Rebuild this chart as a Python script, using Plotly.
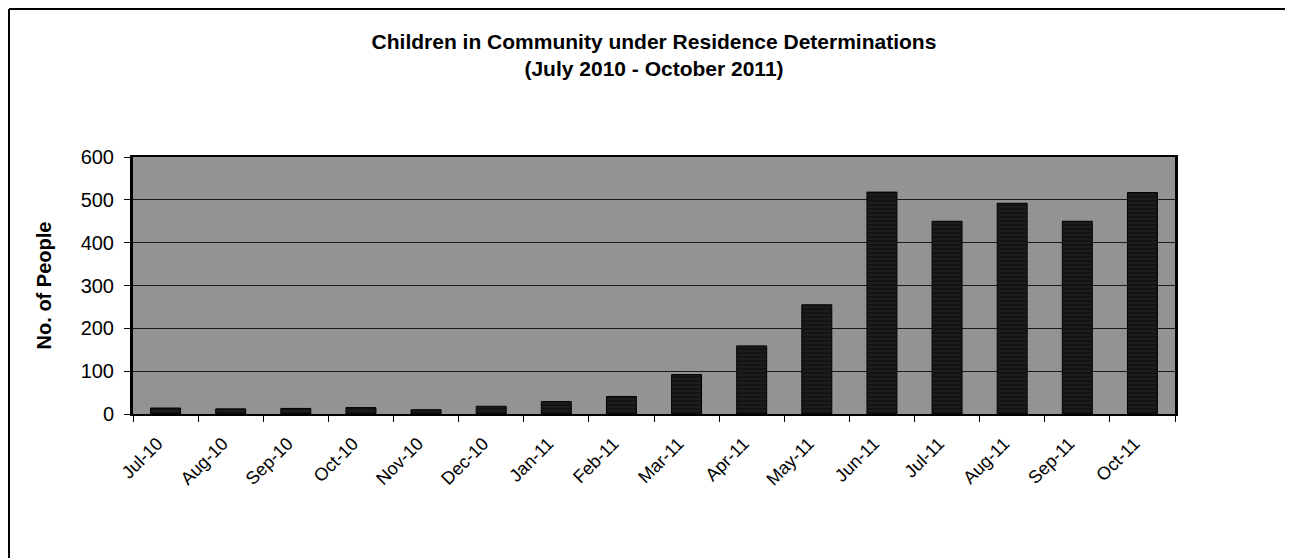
import plotly.graph_objects as go

months = ["Jul-10", "Aug-10", "Sep-10", "Oct-10", "Nov-10", "Dec-10", "Jan-11", "Feb-11",
          "Mar-11", "Apr-11", "May-11", "Jun-11", "Jul-11", "Aug-11", "Sep-11", "Oct-11"]
people = [14, 12, 13, 15, 10, 18, 29, 41, 92, 159, 255, 518, 450, 492, 450, 517]
y_ticks = [0, 100, 200, 300, 400, 500, 600]

title_line1 = "Children in Community under Residence Determinations"
title_line2 = "(July 2010 - October 2011)"
y_title = "No. of People"

FONT = "Liberation Sans, Arial, sans-serif"

# page body has an 8px margin; size the figure so the plot area lands where the reference has it
OFF = 8
W, H = 1293 - OFF, 558 - OFF
L, R, T, B = 133 - OFF, 118, 157 - OFF, 144
pw, ph = W - L - R, H - T - B

def px(xp):
    return (xp - L) / pw

def py(yp):
    return (H - B - yp) / ph

fig = go.Figure()
fig.add_trace(go.Bar(
    x=months, y=people,
    marker=dict(color="#1a1a1a", line=dict(color="#000000", width=1),
                pattern=dict(shape="-", fgcolor="#333333", bgcolor="#141414", size=4, solidity=0.25)),
    showlegend=False,
))

fig.update_layout(
    width=W, height=H,
    margin=dict(l=L, r=R, t=T, b=B),
    paper_bgcolor="white",
    plot_bgcolor="#939393",
    bargap=0.54,
    font=dict(family=FONT, color="black"),
    title=dict(
        text="<b>" + title_line1 + "</b><br><b>" + title_line2 + "</b>",
        x=0.5, xref="paper", xanchor="center",
        y=1 - 41 / H, yref="container", yanchor="top",
        font=dict(size=21, family=FONT, color="black"),
    ),
    shapes=[
        dict(type="line", xref="paper", yref="paper", x0=px(1), x1=px(W), y0=py(1), y1=py(1),
             line=dict(color="black", width=2)),
        dict(type="line", xref="paper", yref="paper", x0=px(1), x1=px(1), y0=py(1), y1=py(H),
             line=dict(color="black", width=2)),
    ],
)

fig.update_xaxes(
    type="category",
    tickson="boundaries",
    ticks="outside", ticklen=6, tickcolor="black", tickwidth=1,
    tickangle=-45,
    ticklabelstandoff=10,
    ticklabelshift=-8,
    tickfont=dict(size=18, family=FONT, color="black"),
    showline=True, linecolor="black", linewidth=2, mirror=True,
    showgrid=False,
)
fig.update_yaxes(
    range=[0, 600],
    tickvals=y_ticks,
    ticks="outside", ticklen=6, tickcolor="black", tickwidth=1,
    ticklabelstandoff=6,
    tickfont=dict(size=20, family=FONT, color="black"),
    showline=True, linecolor="black", linewidth=3, mirror=True,
    showgrid=True, gridcolor="#1a1a1a", gridwidth=1,
    zeroline=False,
    title=dict(text="<b>" + y_title + "</b>", font=dict(size=20, family=FONT, color="black"), standoff=24),
)

fig.write_html("out.html")
